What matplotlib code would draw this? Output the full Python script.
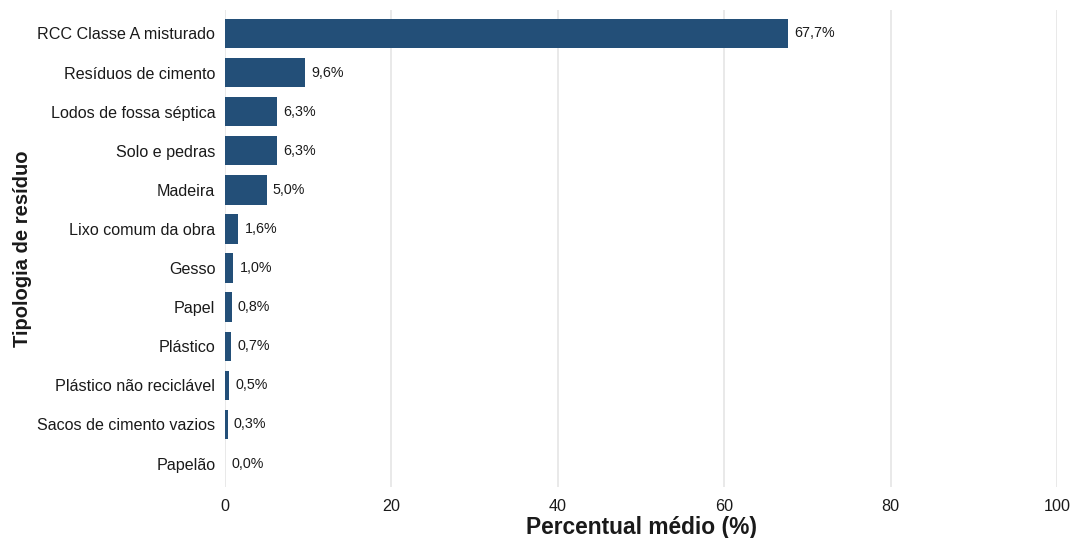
import matplotlib
matplotlib.use("Agg")
import matplotlib.pyplot as plt

plt.rcParams['font.family'] = ['Liberation Sans', 'DejaVu Sans']

categories = [
    "RCC Classe A misturado", "Resíduos de cimento", "Lodos de fossa séptica",
    "Solo e pedras", "Madeira", "Lixo comum da obra", "Gesso", "Papel",
    "Plástico", "Plástico não reciclável", "Sacos de cimento vazios", "Papelão",
]
values = [67.7, 9.6, 6.3, 6.3, 5.0, 1.6, 1.0, 0.8, 0.7, 0.5, 0.3, 0.0]
x_ticks = [0, 20, 40, 60, 80, 100]

bar_color = "#234F78"

fig = plt.figure(figsize=(10.7, 5.38), dpi=100)
ax = fig.add_axes([0.2103, 0.0948, 0.7776, 0.8866])

n = len(categories)
ypos = list(range(n))[::-1]
ax.barh(ypos, values, height=0.75, color=bar_color, zorder=3)

for y, v in zip(ypos, values):
    ax.annotate(f"{v:.1f}%".replace(".", ","), xy=(v, y), xytext=(4.5, 0),
                textcoords="offset points", va="center", ha="left",
                fontsize=10.3, color="#1a1a1a", zorder=4)

ax.set_xlim(0, 100)
ax.set_ylim(-0.6, n - 0.4)
ax.set_xticks(x_ticks)
ax.set_xticklabels([str(t) for t in x_ticks])
ax.set_yticks(ypos)
ax.set_yticklabels(categories)

ax.tick_params(axis="both", length=0, labelsize=11.6, labelcolor="#1a1a1a")
ax.tick_params(axis="y", pad=7)
ax.tick_params(axis="x", pad=9)

ax.grid(axis="x", color="#e5e5e5", linewidth=1.2, zorder=0)
ax.grid(axis="y", visible=False)
for s in ax.spines.values():
    s.set_visible(False)

ax.set_xlabel("Percentual médio (%)", fontsize=16.4, fontweight="bold",
              labelpad=1, color="#1a1a1a")
ax.set_ylabel("Tipologia de resíduo", fontsize=14.5, fontweight="bold",
              labelpad=4, color="#1a1a1a")

fig.savefig("out.png", dpi=100, facecolor="white")
